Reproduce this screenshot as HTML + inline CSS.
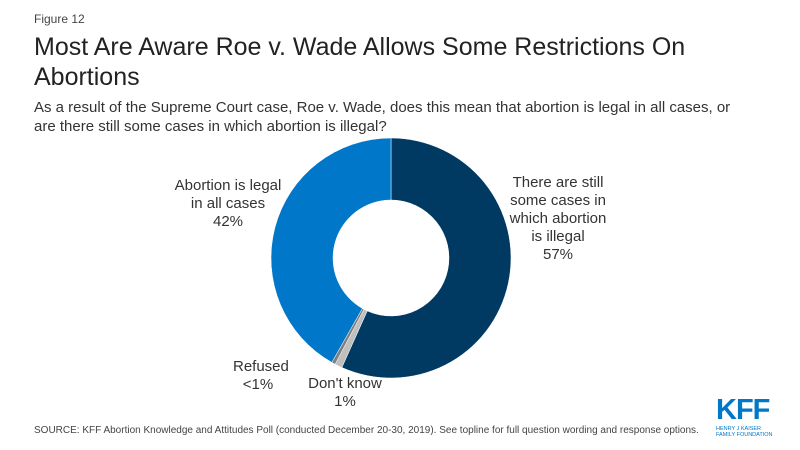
<!DOCTYPE html>
<html><head><meta charset="utf-8"><style>
body{margin:0;width:800px;height:450px;background:#fff;font-family:"Liberation Sans",sans-serif;position:relative;overflow:hidden}
.t{position:absolute;color:#333}
</style></head><body>
<div class="t" style="left:34px;top:12px;font-size:12px;color:#444">Figure 12</div>
<div class="t" style="left:34px;top:32px;font-size:25px;line-height:30px;color:#222;width:740px">Most Are Aware Roe v. Wade Allows Some Restrictions On Abortions</div>
<div class="t" style="left:34px;top:98px;font-size:15px;line-height:19px;color:#333;width:720px">As a result of the Supreme Court case, Roe v. Wade, does this mean that abortion is legal in all cases, or are there still some cases in which abortion is illegal?</div>
<svg width="800" height="450" style="position:absolute;left:0;top:0">
<g id="slices"></g>
</svg>
<div class="t" style="left:168px;top:177px;width:120px;text-align:center;font-size:15px;line-height:18px">Abortion is legal<br>in all cases<br>42%</div>
<div class="t" style="left:498px;top:174px;width:120px;text-align:center;font-size:15px;line-height:18px">There are still<br>some cases in<br>which abortion<br>is illegal<br>57%</div>
<div class="t" style="left:233px;top:358px;width:50px;text-align:center;font-size:15px;line-height:18px">Refused<br>&lt;1%</div>
<div class="t" style="left:300px;top:375px;width:90px;text-align:center;font-size:15px;line-height:18px">Don't know<br>1%</div>
<div class="t" style="left:34px;top:425px;font-size:10px;color:#444">SOURCE: KFF Abortion Knowledge and Attitudes Poll (conducted December 20-30, 2019). See topline for full question wording and response options.</div>
<div style="position:absolute;left:716px;top:397px;color:#0077C8">
<div style="font-size:29px;font-weight:bold;line-height:26px;letter-spacing:-1px">KFF</div>
<div style="font-size:5.5px;line-height:6px;margin-top:3px">HENRY J KAISER<br>FAMILY FOUNDATION</div></div>
<script>
const categories=["Some cases illegal","Don't know","Refused","Legal in all cases"];
const values=[57,1,0.5,42];
const colors=["#003A63","#BFBFBF","#7F7F7F","#0077C8"];
const cx=391,cy=258,R=120,r=58;
const total=values.reduce((a,b)=>a+b,0);
const g=document.getElementById('slices');
let a=0;
function pt(rad,ang){return [cx+rad*Math.sin(ang),cy-rad*Math.cos(ang)];}
values.forEach((v,i)=>{
  const a1=a+v/total*2*Math.PI;const lg=(a1-a)>Math.PI?1:0;
  const [x1,y1]=pt(R,a),[x2,y2]=pt(R,a1),[x3,y3]=pt(r,a1),[x4,y4]=pt(r,a);
  const p=document.createElementNS('http://www.w3.org/2000/svg','path');
  p.setAttribute('d',`M${x1},${y1}A${R},${R} 0 ${lg} 1 ${x2},${y2}L${x3},${y3}A${r},${r} 0 ${lg} 0 ${x4},${y4}Z`);
  p.setAttribute('fill',colors[i]);p.setAttribute('stroke','#fff');p.setAttribute('stroke-width','0.5');
  
  
  g.appendChild(p);a=a1;
});
</script>
</body></html>
